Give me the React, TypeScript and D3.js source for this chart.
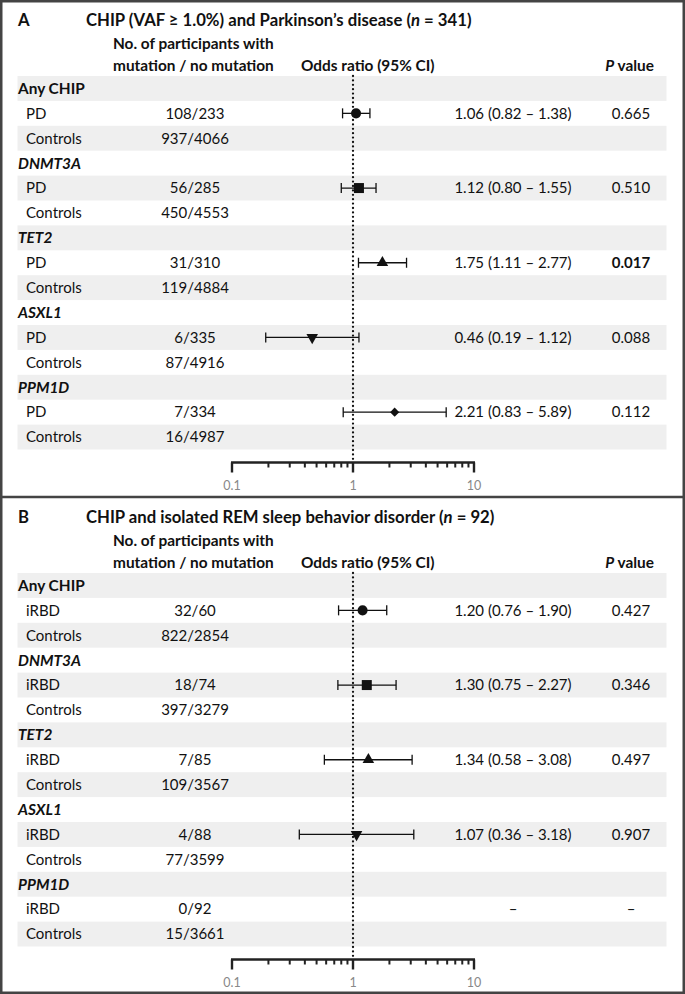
import React from 'react';
import * as d3 from 'd3';

// ---- data ----
const groups = ['Any CHIP', 'DNMT3A', 'TET2', 'ASXL1', 'PPM1D'];
const groupItalic = [false, true, true, true, true];
const markerShapes = ['circle', 'square', 'triangle', 'triangleDown', 'diamond'];
const axisLabels = [0.1, 1, 10];

const pdCases = ['108/233', '56/285', '31/310', '6/335', '7/334'];
const pdControls = ['937/4066', '450/4553', '119/4884', '87/4916', '16/4987'];
const pdOR = [1.06, 1.12, 1.75, 0.46, 2.21];
const pdLow = [0.82, 0.80, 1.11, 0.19, 0.83];
const pdHigh = [1.38, 1.55, 2.77, 1.12, 5.89];
const pdP = ['0.665', '0.510', '0.017', '0.088', '0.112'];
const pdPBold = [false, false, true, false, false];

const rbdCases = ['32/60', '18/74', '7/85', '4/88', '0/92'];
const rbdControls = ['822/2854', '397/3279', '109/3567', '77/3599', '15/3661'];
const rbdOR: (number | null)[] = [1.20, 1.30, 1.34, 1.07, null];
const rbdLow: (number | null)[] = [0.76, 0.75, 0.58, 0.36, null];
const rbdHigh: (number | null)[] = [1.90, 2.27, 3.08, 3.18, null];
const rbdP = ['0.427', '0.346', '0.497', '0.907', '–'];
const rbdPBold = [false, false, false, false, false];

const W = 685;
const H = 994;
const PANEL_H = 497;
const FONT = 'Lato, "Open Sans", sans-serif';
const INK = '#111';
const BODY = 15;
const HEAD = 15.4;

const x = d3.scaleLog().domain([0.1, 10]).range([232, 474]);
const rowY = d3.scaleLinear().domain([0, 15]).range([76, 449.5]);
const rowH = rowY(1) - rowY(0);

const symbolPath = (shape: string) => {
    if (shape === 'circle') return d3.symbol(d3.symbolCircle, 80)()!;
    if (shape === 'square') return d3.symbol(d3.symbolSquare, 100)()!;
    if (shape === 'diamond') return d3.symbol(d3.symbolSquare, 42)()!;
    return d3.symbol(d3.symbolTriangle, 58)()!;
};
const symbolRotate = (shape: string) =>
    shape === 'triangleDown' ? 180 : shape === 'diamond' ? 45 : 0;

const fmt = (v: number) => v.toFixed(2);

interface PanelProps {
    top: number;
    letter: string;
    titleStart: string;
    nValue: string;
    subject: string;
    cases: string[];
    controls: string[];
    or: (number | null)[];
    low: (number | null)[];
    high: (number | null)[];
    p: string[];
    pBold: boolean[];
}

const Panel: React.FC<PanelProps> = (props) => {
    const { top, letter, titleStart, nValue, subject, cases, controls, or, low, high, p, pBold } = props;
    const axisY = 462.5;
    const ticks = x.ticks();
    const isMajor = (t: number) => Math.abs(Math.log10(t) - Math.round(Math.log10(t))) < 1e-6;
    const mid = (i: number) => rowY(i) + rowH / 2;

    return (
        <g transform={`translate(0,${top})`} fontFamily={FONT} fill={INK}>
            {/* zebra bands */}
            {d3.range(15).filter(i => i % 2 === 0).map(i => (
                <rect key={i} x={17.5} y={rowY(i)} width={649} height={rowH} fill="#efefef" />
            ))}

            {/* title */}
            <text x={18} y={20} dy="0.35em" fontSize={16.7} fontWeight="bold">{letter}</text>
            <text x={86} y={20} dy="0.35em" fontSize={16.7} fontWeight="bold">
                {titleStart}(<tspan fontStyle="italic">n</tspan> = {nValue})
            </text>

            {/* column headers */}
            <text x={113} y={44} dy="0.35em" fontSize={HEAD} fontWeight="bold">No. of participants with</text>
            <text x={113} y={66} dy="0.35em" fontSize={HEAD} fontWeight="bold">mutation / no mutation</text>
            <text x={301} y={66} dy="0.35em" fontSize={HEAD} fontWeight="bold">Odds ratio (95% CI)</text>
            <text x={654} y={66} dy="0.35em" fontSize={HEAD} fontWeight="bold" textAnchor="end">
                <tspan fontStyle="italic">P</tspan> value
            </text>

            {/* reference line at OR = 1 */}
            <line x1={x(1)} x2={x(1)} y1={76} y2={axisY} stroke="#111" strokeWidth={2.3}
                strokeDasharray="0 4.4" strokeLinecap="round" />

            {groups.map((g, gi) => {
                const r0 = gi * 3;
                const hasOR = or[gi] !== null;
                return (
                    <g key={g}>
                        <text x={18} y={mid(r0)} dy="0.35em" fontSize={HEAD} fontWeight="bold"
                            fontStyle={groupItalic[gi] ? 'italic' : 'normal'}>{g}</text>
                        <text x={26} y={mid(r0 + 1)} dy="0.35em" fontSize={BODY}>{subject}</text>
                        <text x={26} y={mid(r0 + 2)} dy="0.35em" fontSize={BODY}>Controls</text>
                        <text x={195} y={mid(r0 + 1)} dy="0.35em" fontSize={BODY} textAnchor="middle">{cases[gi]}</text>
                        <text x={195} y={mid(r0 + 2)} dy="0.35em" fontSize={BODY} textAnchor="middle">{controls[gi]}</text>
                        <text x={513} y={mid(r0 + 1)} dy="0.35em" fontSize={BODY} textAnchor="middle">
                            {hasOR ? `${fmt(or[gi]!)} (${fmt(low[gi]!)} – ${fmt(high[gi]!)})` : '–'}
                        </text>
                        <text x={631} y={mid(r0 + 1)} dy="0.35em" fontSize={BODY} textAnchor="middle"
                            fontWeight={pBold[gi] ? 'bold' : 'normal'}>{p[gi]}</text>
                        {hasOR && (
                            <g stroke="#111" strokeWidth={1.3}>
                                <line x1={x(low[gi]!)} x2={x(high[gi]!)} y1={mid(r0 + 1)} y2={mid(r0 + 1)} />
                                <line x1={x(low[gi]!)} x2={x(low[gi]!)} y1={mid(r0 + 1) - 5} y2={mid(r0 + 1) + 5} />
                                <line x1={x(high[gi]!)} x2={x(high[gi]!)} y1={mid(r0 + 1) - 5} y2={mid(r0 + 1) + 5} />
                                <path d={symbolPath(markerShapes[gi])} stroke="none" fill="#111"
                                    transform={`translate(${x(or[gi]!)},${mid(r0 + 1)}) rotate(${symbolRotate(markerShapes[gi])})`} />
                            </g>
                        )}
                    </g>
                );
            })}

            {/* log axis */}
            <g stroke="#222">
                <line x1={x(0.1) - 1} x2={x(10) + 1} y1={axisY} y2={axisY} strokeWidth={2.6} />
                {ticks.map(t => (
                    <line key={t} x1={x(t)} x2={x(t)} y1={axisY} y2={axisY + (isMajor(t) ? 10 : 5)}
                        strokeWidth={isMajor(t) ? 2.4 : 2} />
                ))}
            </g>
            {axisLabels.map(t => (
                <text key={t} x={x(t)} y={486} dy="0.35em" fontSize={12.5} fill="#888" textAnchor="middle">{t}</text>
            ))}
        </g>
    );
};

const App: React.FC = () => (
    <svg width={W} height={H} viewBox={`0 0 ${W} ${H}`}
        style={{ position: 'absolute', left: 0, top: 0, background: '#fff' }}>
        <rect x={0} y={0} width={W} height={H} fill="#fff" />
        <Panel top={0} letter="A" titleStart="CHIP (VAF ≥ 1.0%) and Parkinson’s disease " nValue="341"
            subject="PD" cases={pdCases} controls={pdControls} or={pdOR} low={pdLow} high={pdHigh}
            p={pdP} pBold={pdPBold} />
        <Panel top={PANEL_H} letter="B" titleStart="CHIP and isolated REM sleep behavior disorder " nValue="92"
            subject="iRBD" cases={rbdCases} controls={rbdControls} or={rbdOR} low={rbdLow} high={rbdHigh}
            p={rbdP} pBold={rbdPBold} />
        {/* panel frames */}
        <rect x={1.25} y={1.25} width={W - 2.5} height={H - 2.5} fill="none" stroke="#444" strokeWidth={2.5} />
        <line x1={0} x2={W} y1={PANEL_H} y2={PANEL_H} stroke="#444" strokeWidth={2.5} />
    </svg>
);

export default App;
